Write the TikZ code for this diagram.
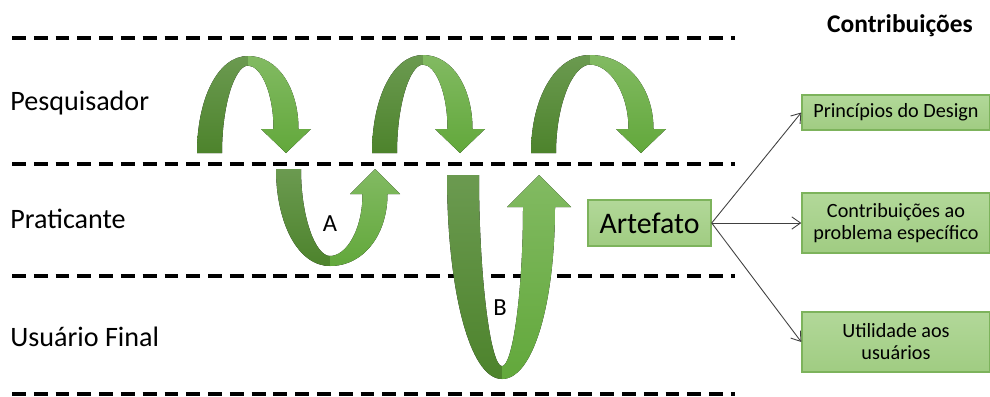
\documentclass[tikz,border=0pt]{standalone}
\usepackage{fontspec}
\setmainfont{Carlito}
\usetikzlibrary{positioning,arrows.meta}

\definecolor{darktop}{HTML}{6B9A50}
\definecolor{darkbot}{HTML}{4D832C}
\definecolor{lighttop}{HTML}{82BA62}
\definecolor{lightbot}{HTML}{62A83B}
\definecolor{boxtop}{HTML}{B2D899}
\definecolor{boxbot}{HTML}{A0CC82}
\definecolor{boxline}{HTML}{7DB35C}

% one twisted band: left leg x, apex x, tip x, leg/tip y, apex y, width, head base y
\newcommand{\ribbon}[7]{%
  \fill[darkband] (#1,#4) .. controls (#1,{#4+0.55*(#5-#4)}) and ({#1+0.4*(#2-#1)},#5) .. (#2,#5)
    -- (#2,{#5+0.4*(#4-#7)}) .. controls ({#1+#6+0.5*(#2-#1-#6)},{#5+0.4*(#4-#7)}) and ({#1+#6},{#4+0.5*(#5-#4)}) .. ({#1+#6},#4) -- cycle;
  \fill[lightband] (#2,#5) .. controls ({#2+0.6*(#3+#6/2-#2)},#5) and ({#3+#6/2},{#5+0.45*(#7-#5)}) .. ({#3+#6/2},#7)
    -- ({#3+#6},#7) -- (#3,#4) -- ({#3-#6},#7) -- ({#3-#6/2},#7)
    .. controls ({#3-#6/2},{#5+0.5*(#7-#5)}) and ({#2+0.5*(#3-#6/2-#2)},{#5+0.4*(#4-#7)}) .. (#2,{#5+0.4*(#4-#7)}) -- cycle;
}

\tikzset{
  lane/.style={line width=2.3pt, dash pattern=on 7.9pt off 4.5pt},
  role/.style={anchor=base west, inner sep=0pt, font=\fontsize{16}{19}\selectfont},
  darkband/.style={top color=darktop, bottom color=darkbot},
  lightband/.style={top color=lighttop, bottom color=lightbot},
  tag/.style={inner sep=0pt, font=\fontsize{14}{16}\selectfont},
  artbox/.style={draw=boxline, line width=0.8pt, top color=boxtop, bottom color=boxbot,
    minimum width=2.46cm, minimum height=0.92cm, font=\fontsize{17}{20}\selectfont},
  outbox/.style={draw=boxline, line width=0.8pt, top color=boxtop, bottom color=boxbot,
    minimum width=3.76cm, align=center, font=\fontsize{11.5}{12.5}\selectfont},
  contrib/.style={draw=black!75, line width=0.5pt, -{Straight Barb[length=5pt,width=7pt]}}
}

\begin{document}
\begin{tikzpicture}[x=0.02cm, y=-0.02cm]
  \useasboundingbox (0,0) rectangle (990,396);

  % swim lanes
  \foreach \y in {38,164,276,394}
    \draw[lane] (12,\y) -- (735,\y);
  \node[role] (res) at (10,110) {Pesquisador};
  \node[role] (pra) at (10,228) {Praticante};
  \node[role] (usr) at (10,346) {Usuário Final};

  % cycles
  \ribbon{197}{248}{286}{153}{56}{25}{129}
  \ribbon{372}{423}{460}{153}{55}{25}{129}
  \ribbon{531}{590}{641}{153}{55}{25}{129}
  \ribbon{276}{330}{375}{169}{266}{25}{194}
  \ribbon{447}{502}{539}{175}{379}{32}{207}
  \node[tag] (la) at (330,224) {A};
  \node[tag] (lb) at (500,308) {B};

  % results
  \node[artbox] (art) at (649.5,223) {Artefato};
  \node[outbox, minimum height=0.7cm] (pd) at (896,112.5) {Princípios do Design};
  \node[outbox, minimum height=1.2cm] (cp) at (896,223) {Contribuições ao\\problema específico};
  \node[outbox, minimum height=1.2cm] (ut) at (896,342) {Utilidade aos\\usuários};
  \node[font=\bfseries\fontsize{14.5}{17}\selectfont] (ct) at (900,26) {Contribuições};

  \draw[contrib] (art.east) -- (pd.west);
  \draw[contrib] (art.east) -- (cp.west);
  \draw[contrib] (art.east) -- (ut.west);
\end{tikzpicture}
\end{document}
